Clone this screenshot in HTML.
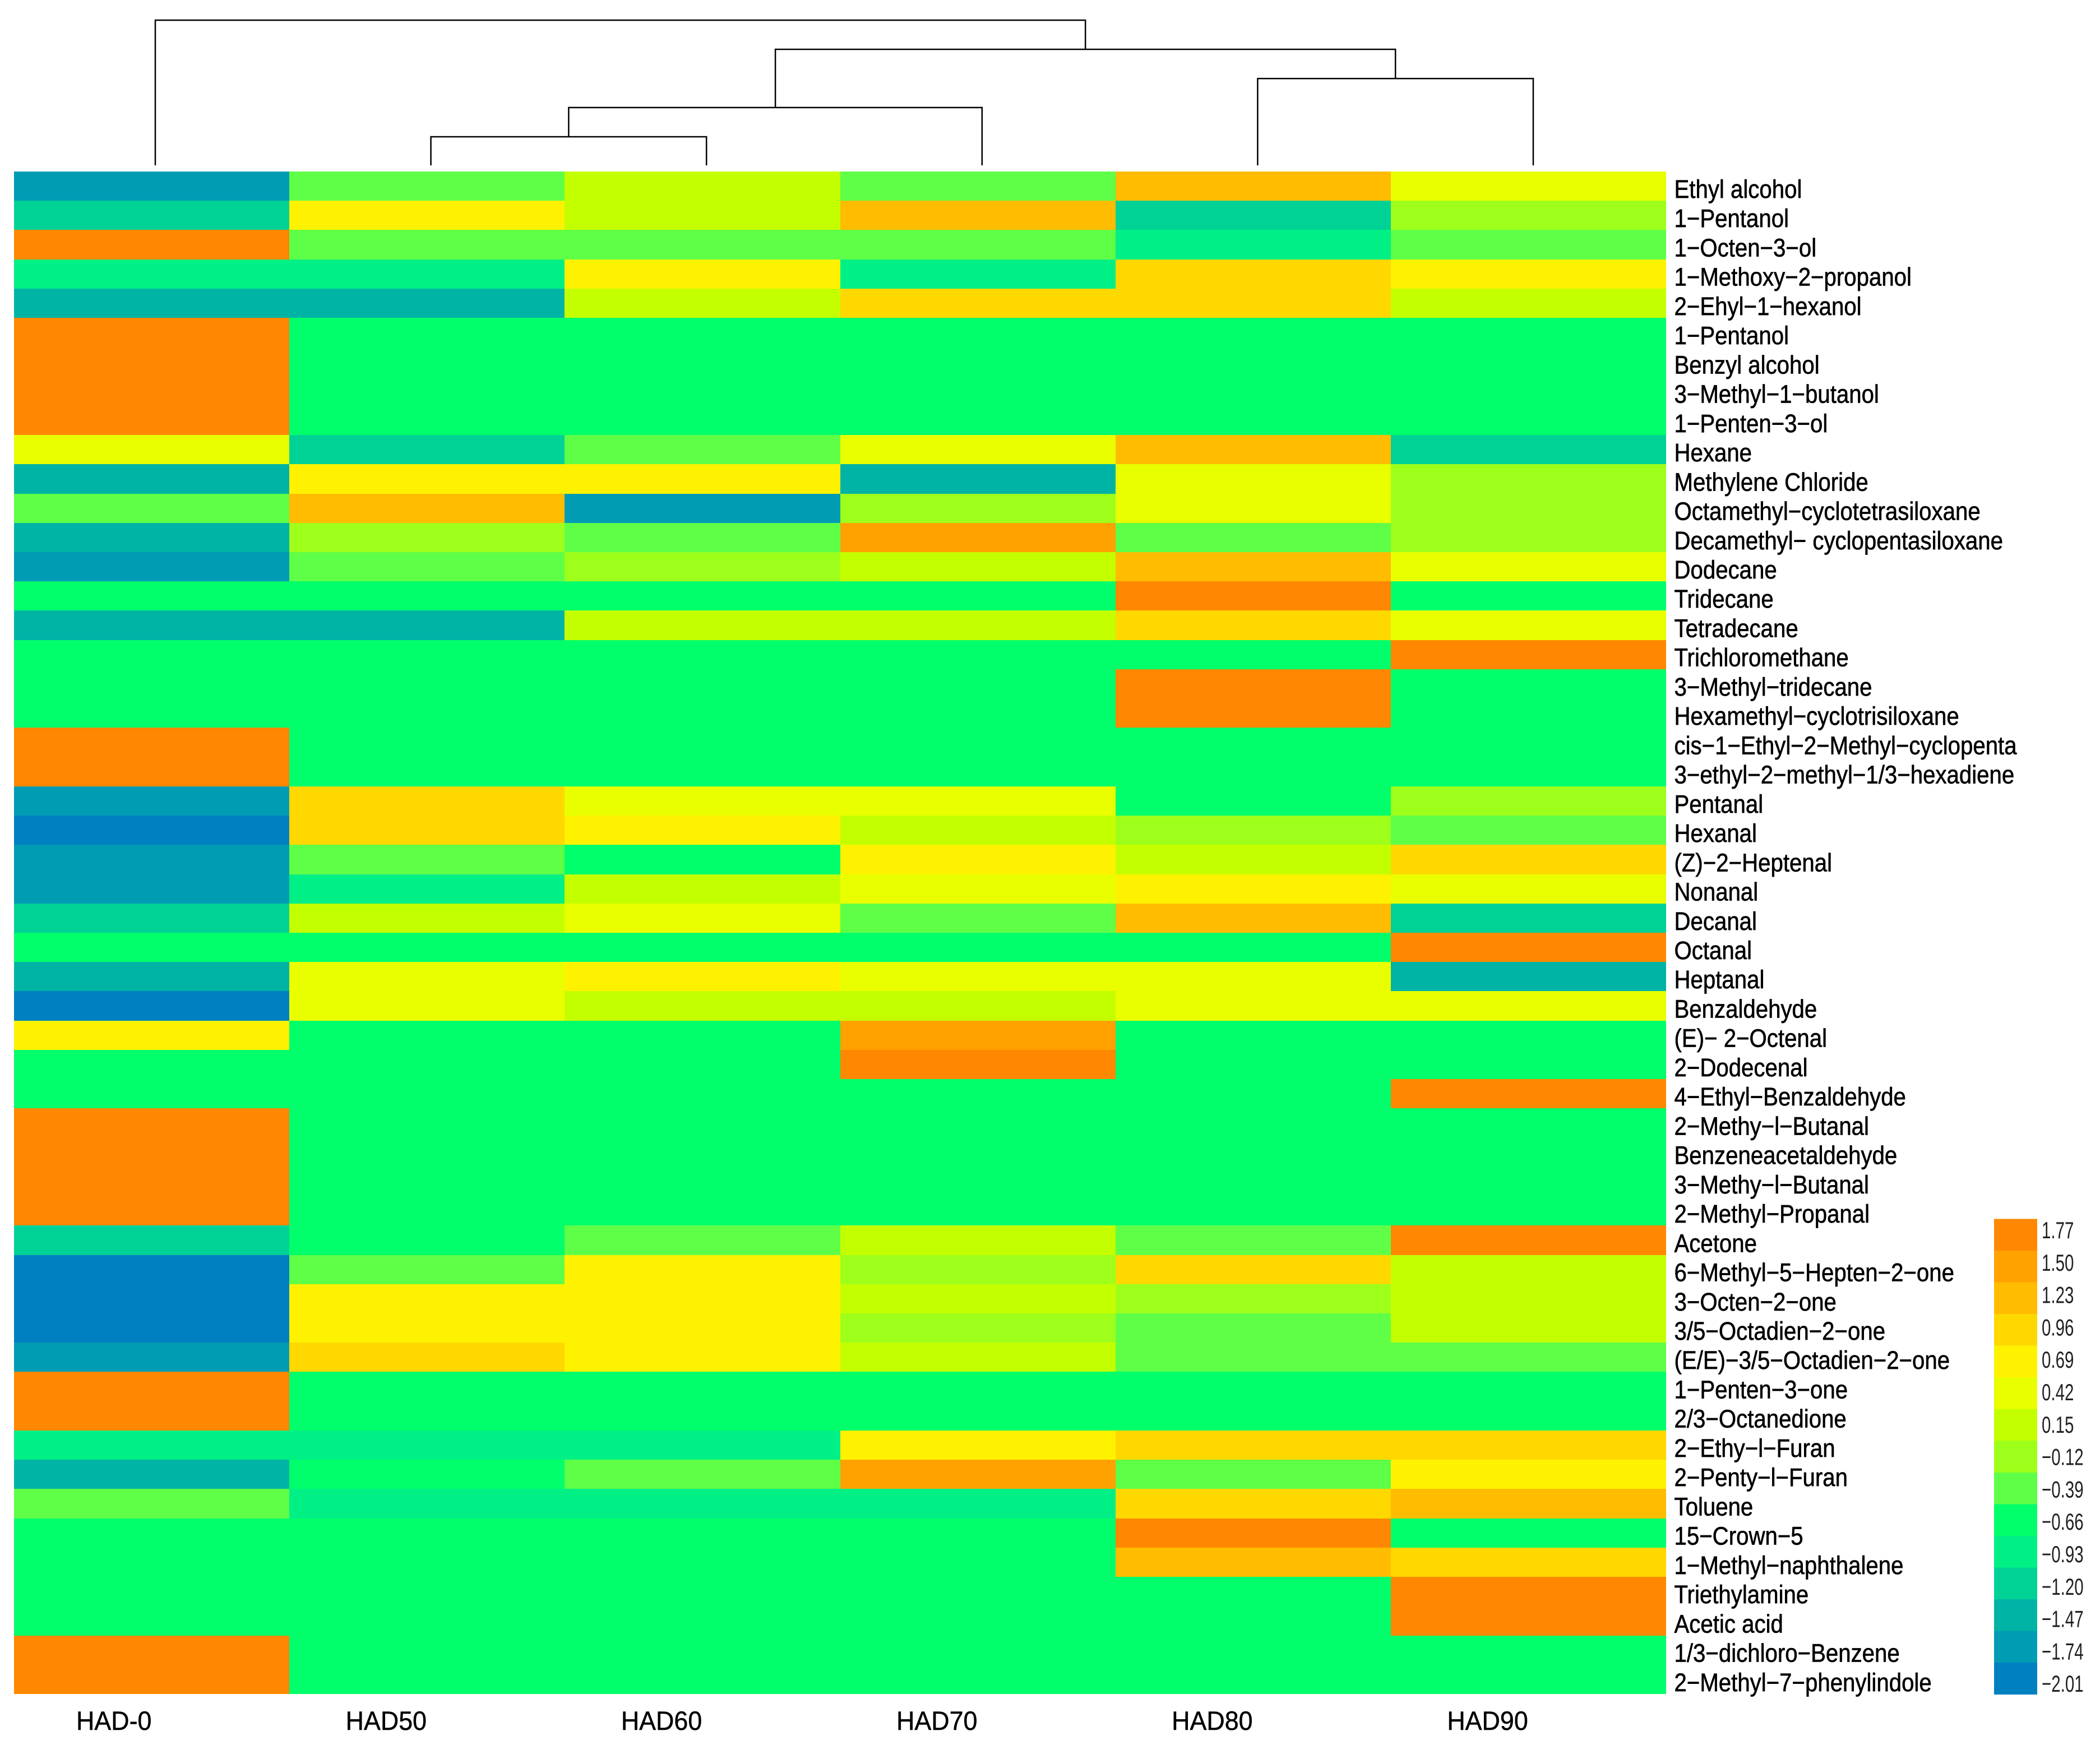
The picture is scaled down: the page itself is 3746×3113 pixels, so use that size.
<!DOCTYPE html>
<html lang="en">
<head>
<meta charset="utf-8">
<title>Volatile compound heatmap</title>
<style>
html,body{margin:0;padding:0;background:#fff;}
#chart{display:block;width:3746px;height:3113px;font-family:"Liberation Sans",Arial,sans-serif;}
</style>
</head>
<body>
<svg id="chart" xmlns="http://www.w3.org/2000/svg" width="3746" height="3113" viewBox="0 0 3746 3113">
<rect x="0" y="0" width="3746" height="3113" fill="#ffffff"/>
<g id="dendrogram"></g>
<g id="cells" shape-rendering="crispEdges"></g>
<g id="rowLabelsG"></g>
<g id="colLabelsG"></g>
<g id="legendG"></g>
</svg>
<script>
const columnLabels = ["HAD-0","HAD50","HAD60","HAD70","HAD80","HAD90"];
const rowLabels = ["Ethyl alcohol","1−Pentanol","1−Octen−3−ol","1−Methoxy−2−propanol","2−Ehyl−1−hexanol","1−Pentanol","Benzyl alcohol","3−Methyl−1−butanol","1−Penten−3−ol","Hexane","Methylene Chloride","Octamethyl−cyclotetrasiloxane","Decamethyl− cyclopentasiloxane","Dodecane","Tridecane","Tetradecane","Trichloromethane","3−Methyl−tridecane","Hexamethyl−cyclotrisiloxane","cis−1−Ethyl−2−Methyl−cyclopenta","3−ethyl−2−methyl−1/3−hexadiene","Pentanal","Hexanal","(Z)−2−Heptenal","Nonanal","Decanal","Octanal","Heptanal","Benzaldehyde","(E)− 2−Octenal","2−Dodecenal","4−Ethyl−Benzaldehyde","2−Methy−l−Butanal","Benzeneacetaldehyde","3−Methy−l−Butanal","2−Methyl−Propanal","Acetone","6−Methyl−5−Hepten−2−one","3−Octen−2−one","3/5−Octadien−2−one","(E/E)−3/5−Octadien−2−one","1−Penten−3−one","2/3−Octanedione","2−Ethy−l−Furan","2−Penty−l−Furan","Toluene","15−Crown−5","1−Methyl−naphthalene","Triethylamine","Acetic acid","1/3−dichloro−Benzene","2−Methyl−7−phenylindole"];
const had0 = [-1.74,-1.20,1.77,-0.93,-1.47,1.77,1.77,1.77,1.77,0.42,-1.47,-0.39,-1.47,-1.74,-0.66,-1.47,-0.66,-0.66,-0.66,1.77,1.77,-1.74,-2.01,-1.74,-1.74,-1.20,-0.66,-1.47,-2.01,0.69,-0.66,-0.66,1.77,1.77,1.77,1.77,-1.20,-2.01,-2.01,-2.01,-1.74,1.77,1.77,-0.93,-1.47,-0.39,-0.66,-0.66,-0.66,-0.66,1.77,1.77];
const had50 = [-0.39,0.69,-0.39,-0.93,-1.47,-0.66,-0.66,-0.66,-0.66,-1.20,0.69,1.23,-0.12,-0.39,-0.66,-1.47,-0.66,-0.66,-0.66,-0.66,-0.66,0.96,0.96,-0.39,-0.93,0.15,-0.66,0.42,0.42,-0.66,-0.66,-0.66,-0.66,-0.66,-0.66,-0.66,-0.66,-0.39,0.69,0.69,0.96,-0.66,-0.66,-0.93,-0.66,-0.93,-0.66,-0.66,-0.66,-0.66,-0.66,-0.66];
const had60 = [0.15,0.15,-0.39,0.69,0.15,-0.66,-0.66,-0.66,-0.66,-0.39,0.69,-1.74,-0.39,-0.12,-0.66,0.15,-0.66,-0.66,-0.66,-0.66,-0.66,0.42,0.69,-0.66,0.15,0.42,-0.66,0.69,0.15,-0.66,-0.66,-0.66,-0.66,-0.66,-0.66,-0.66,-0.39,0.69,0.69,0.69,0.69,-0.66,-0.66,-0.93,-0.39,-0.93,-0.66,-0.66,-0.66,-0.66,-0.66,-0.66];
const had70 = [-0.39,1.23,-0.39,-0.93,0.96,-0.66,-0.66,-0.66,-0.66,0.42,-1.47,-0.12,1.50,0.15,-0.66,0.15,-0.66,-0.66,-0.66,-0.66,-0.66,0.42,0.15,0.69,0.42,-0.39,-0.66,0.42,0.15,1.50,1.77,-0.66,-0.66,-0.66,-0.66,-0.66,0.15,-0.12,0.15,-0.12,0.15,-0.66,-0.66,0.69,1.50,-0.93,-0.66,-0.66,-0.66,-0.66,-0.66,-0.66];
const had80 = [1.23,-1.20,-0.93,0.96,0.96,-0.66,-0.66,-0.66,-0.66,1.23,0.42,0.42,-0.39,1.23,1.77,0.96,-0.66,1.77,1.77,-0.66,-0.66,-0.66,-0.12,0.15,0.69,1.23,-0.66,0.42,0.42,-0.66,-0.66,-0.66,-0.66,-0.66,-0.66,-0.66,-0.39,0.96,-0.12,-0.39,-0.39,-0.66,-0.66,0.96,-0.39,0.96,1.77,1.23,-0.66,-0.66,-0.66,-0.66];
const had90 = [0.42,-0.12,-0.39,0.69,0.15,-0.66,-0.66,-0.66,-0.66,-1.20,-0.12,-0.12,-0.12,0.42,-0.66,0.42,1.77,-0.66,-0.66,-0.66,-0.66,-0.12,-0.39,0.96,0.42,-1.20,1.77,-1.47,0.42,-0.66,-0.66,1.77,-0.66,-0.66,-0.66,-0.66,1.77,0.15,0.15,0.15,-0.39,-0.66,-0.66,0.96,0.69,1.23,-0.66,0.96,1.77,1.77,-0.66,-0.66];
const legendTicks = [1.77,1.50,1.23,0.96,0.69,0.42,0.15,-0.12,-0.39,-0.66,-0.93,-1.20,-1.47,-1.74,-2.01];
const mergeLeft = ["HAD50","m0","HAD80","m1","HAD-0"];
const mergeRight = ["HAD60","HAD70","HAD90","m2","m3"];
const mergeHeights = [0.197,0.398,0.598,0.799,1.0];

const seriesByColumn = [had0,had50,had60,had70,had80,had90];
const palette = ["#0080C0","#009CB4","#00B4A5","#00D296","#00F085","#00FF6B","#5FFF47","#9EFF1B","#C4FF00","#E9FF00","#FFF200","#FFD800","#FFBC00","#FFA200","#FF8800"];
const NS = "http://www.w3.org/2000/svg";
const plotLeft = 25, plotRight = 2972, plotTop = 306, plotBottom = 3022;
const colWidth = (plotRight - plotLeft) / columnLabels.length;
const rowHeight = (plotBottom - plotTop) / rowLabels.length;

function xScale(c){ return plotLeft + c * colWidth; }
function yScale(r){ return plotTop + r * rowHeight; }
function leafX(c){ return 277 + c * 491.6; }
function heightY(h){ return 295 - h * 259; }
function colorScale(v){
  const lo = legendTicks[legendTicks.length - 1];
  const hi = legendTicks[0];
  const step = (hi - lo) / (palette.length - 1);
  const i = Math.round((v - lo) / step);
  return palette[Math.max(0, Math.min(palette.length - 1, i))];
}
function legendY(i){ return 2174.5 + i * (3022.5 - 2174.5) / legendTicks.length; }
function make(tag){ return document.createElementNS(NS, tag); }
function setAll(el, attrs){ for (const k in attrs) el.setAttribute(k, attrs[k]); }
function stretchedText(el, x, y, sx, sy, size, str){
  el.setAttribute("transform", "translate(" + x + "," + y + ") scale(" + sx + "," + sy + ")");
  el.setAttribute("font-size", size);
  el.textContent = str;
}

/* heatmap cells */
const cellsG = document.getElementById("cells");
seriesByColumn.forEach(function(values, c){
  values.forEach(function(v, r){
    const rect = make("rect");
    
    
    const x0 = Math.round(xScale(c)), x1 = Math.round(xScale(c + 1));
    const y0 = Math.round(yScale(r)), y1 = Math.round(yScale(r + 1));
    setAll(rect, {x:x0, y:y0, width:x1 - x0, height:y1 - y0, fill:colorScale(v)});
    const tip = make("title");
    tip.textContent = rowLabels[r] + " / " + columnLabels[c] + ": " + v.toFixed(2);
    rect.appendChild(tip);
    cellsG.appendChild(rect);
  });
});

/* row labels */
const rowG = document.getElementById("rowLabelsG");
rowLabels.forEach(function(label, r){
  const t = make("text");
  
  
  t.setAttribute("fill", "#000");
  t.setAttribute("stroke", "#000");
  t.setAttribute("stroke-width", "0.6");
  stretchedText(t, 2986.5, yScale(r) + 47, 1, 1.12, 40.2, label);
  rowG.appendChild(t);
});

/* column labels */
const colG = document.getElementById("colLabelsG");
const firstLabelOffset = 111;
const otherLabelOffset = 100.5;
columnLabels.forEach(function(label, c){
  const t = make("text");
  
  
  t.setAttribute("fill", "#000");
  t.setAttribute("stroke", "#000");
  t.setAttribute("stroke-width", "0.5");
  const x = xScale(c) + (c === 0 ? firstLabelOffset : otherLabelOffset);
  stretchedText(t, x, 3086, 1, 1.06, 44.8, label);
  colG.appendChild(t);
});

/* dendrogram */
const dendroG = document.getElementById("dendrogram");
const nodePos = {};
columnLabels.forEach(function(label, c){ nodePos[label] = {x:leafX(c), h:0}; });
mergeHeights.forEach(function(h, i){
  const a = nodePos[mergeLeft[i]], b = nodePos[mergeRight[i]];
  const link = make("path");
  
  
  const top = heightY(h);
  setAll(link, {
    d: "M" + a.x + " " + heightY(a.h) + "V" + top + "H" + b.x + "V" + heightY(b.h),
    fill: "none", stroke: "#000", "stroke-width": 2.5
  });
  dendroG.appendChild(link);
  nodePos["m" + i] = {x:(a.x + b.x) / 2, h:h};
});

/* legend */
const legendG = document.getElementById("legendG");
legendTicks.forEach(function(tick, i){
  const rect = make("rect");
  
  
  setAll(rect, {x:3557, y:legendY(i), width:77, height:(3022.5 - 2174.5) / legendTicks.length + 0.5, fill:colorScale(tick), "shape-rendering":"crispEdges"});
  legendG.appendChild(rect);
  const t = make("text");
  
  
  t.setAttribute("fill", "#222");
  const str = tick < 0 ? "−" + Math.abs(tick).toFixed(2) : tick.toFixed(2);
  stretchedText(t, 3642, 2209 + i * 57.8, 1, 1.42, 29.5, str);
  legendG.appendChild(t);
});
</script>
</body>
</html>
